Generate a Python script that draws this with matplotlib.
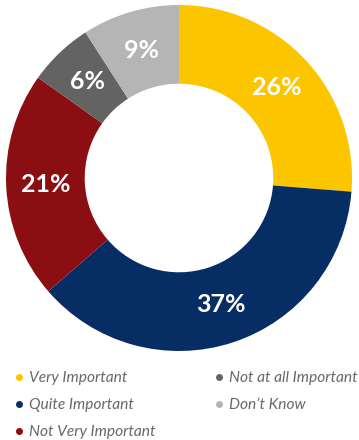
import matplotlib.pyplot as plt
from matplotlib.lines import Line2D

labels = ['Very Important', 'Quite Important', 'Not Very Important',
          'Not at all Important', "Don\u2019t Know"]
values = [26, 37, 21, 6, 9]
colors = ['#FBC600', '#072D65', '#8B0F12', '#636363', '#B5B5B5']

plt.rcParams['font.family'] = ['Lato', 'DejaVu Sans']

fig = plt.figure(figsize=(3.59, 4.40), dpi=100)
ax = fig.add_axes([6 / 359, 89 / 440, 346 / 359, 346 / 440])

wedges, texts = ax.pie(values, colors=colors, startangle=90, counterclock=False,
                       radius=1, wedgeprops=dict(width=0.455, linewidth=0),
                       labels=[str(v) + '%' for v in values], labeldistance=0.77,
                       textprops=dict(color='white', fontsize=18, fontweight='bold',
                                      ha='center', va='center'))
ax.set_xlim(-1, 1)
ax.set_ylim(-1, 1)
ax.set_aspect('equal')

handles = [Line2D([], [], marker='o', linestyle='none', markersize=4,
                  markerfacecolor=c, markeredgecolor=c) for c in colors]
leg = fig.legend(handles, labels, ncol=2, loc='upper left',
                 bbox_to_anchor=(0 / 359, 1 - 357 / 440), frameon=False,
                 handlelength=0.6, handletextpad=0.35, columnspacing=3.8,
                 labelspacing=0.84, prop=dict(size=11.2, style='italic'))
for t in leg.get_texts():
    t.set_color('#686868')

fig.savefig('out.png', dpi=100)
